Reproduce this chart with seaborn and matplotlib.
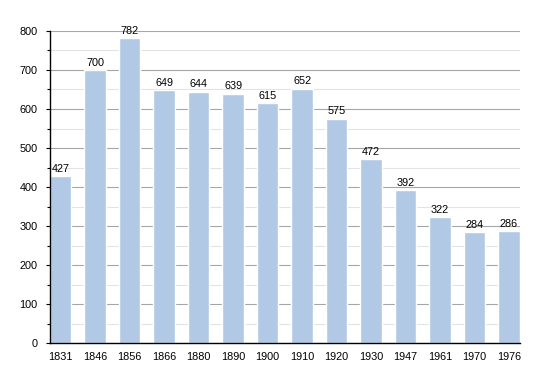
import numpy as np
import pandas as pd
import seaborn as sns
import matplotlib
matplotlib.use("Agg")
import matplotlib.pyplot as plt
from matplotlib.ticker import MultipleLocator

years = ["1831", "1846", "1856", "1866", "1880", "1890", "1900",
         "1910", "1920", "1930", "1947", "1961", "1970", "1976"]
population = [427, 700, 782, 649, 644, 639, 615, 652, 575, 472, 392, 322, 284, 286]

df = pd.DataFrame({"year": years, "population": population})

sns.set_style("white")
plt.rcParams['font.family'] = ['Liberation Sans', 'DejaVu Sans']
plt.rcParams['text.color'] = 'black'
plt.rcParams['xtick.color'] = 'black'
plt.rcParams['ytick.color'] = 'black'

fig = plt.figure(figsize=(5.5, 3.73), dpi=100)
ax = fig.add_axes([0.0909, 0.0804, 0.854, 0.8365])

bar_color = "#b1c9e5"
sns.barplot(data=df, x="year", y="population", color=bar_color,
            width=0.62, saturation=1, ax=ax, zorder=3)

ax.set_xlim(-0.31, len(years) - 1 + 0.31)
ax.set_ylim(0, 800)
ax.yaxis.set_major_locator(MultipleLocator(100))
ax.yaxis.set_minor_locator(MultipleLocator(50))
ax.grid(axis="y", which="major", color="#a6a6a6", linewidth=0.8, zorder=0)
ax.grid(axis="y", which="minor", color="#e3e3e3", linewidth=0.8, zorder=0)
ax.set_axisbelow(True)

for side in ["top", "right"]:
    ax.spines[side].set_visible(False)
for side in ["left", "bottom"]:
    ax.spines[side].set_color("black")
    ax.spines[side].set_linewidth(1.0)
    ax.spines[side].set_zorder(5)

ax.tick_params(axis="y", which="major", left=True, length=3, width=0.8,
               labelsize=7.8, pad=6)
ax.tick_params(axis="y", which="minor", left=True, length=2, width=0.8)
ax.tick_params(axis="x", bottom=False, labelsize=7.8, pad=3)

ax.set_xlabel("")
ax.set_ylabel("")

for i, v in enumerate(population):
    ax.text(i, v + 6, str(v), ha="center", va="bottom", fontsize=7.8, zorder=6)

fig.savefig("out.png", dpi=100)
